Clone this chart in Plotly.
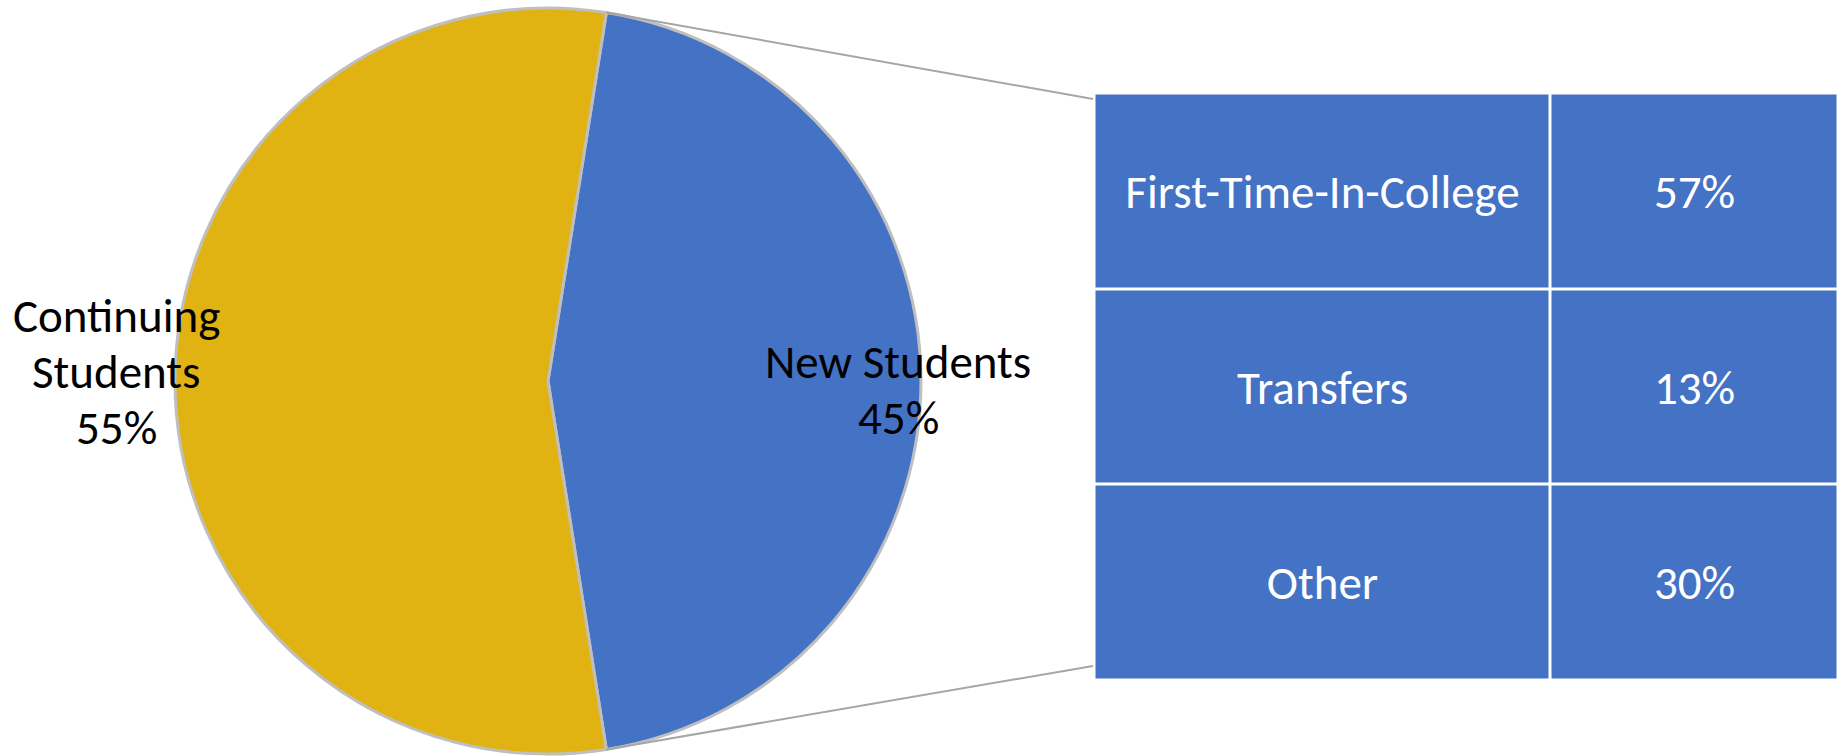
import math
import plotly.graph_objects as go

# ---- data ----
pie_labels = ["New Students", "Continuing Students"]
pie_values = [45, 55]
pie_text = ["New Students<br>45%", "Continuing<br>Students<br>55%"]

table_categories = ["First-Time-In-College", "Transfers", "Other"]
table_values = [57, 13, 30]
table_text_values = ["57%", "13%", "30%"]

# ---- layout constants ----
W, H = 1844, 756
BLUE = "#4472C4"
GOLD = "#E1B312"
FONT = "Carlito, Calibri, Lato, sans-serif"
FS = 47
LINE_H = 56

cx, cy, r = 548, 381, 373          # pie centre / radius in px
rot = 90 - 360 * pie_values[0] / sum(pie_values) / 2  # centre the blue slice at 3 o'clock

tbl_left, tbl_right, tbl_top, tbl_bottom = 1096, 1837, 95, 679
col_w = [454, 287]
gap = 3

# label anchor (centre x, first-line centre y) for each slice label
label_pos = [(898, 362), (116, 316)]


def px(x):
    return x / W


def py(y):
    return (H - y) / H


fig = go.Figure()

fig.add_trace(go.Pie(
    labels=pie_labels,
    values=pie_values,
    sort=False,
    direction="clockwise",
    rotation=rot,
    textinfo="none",
    hoverinfo="label+percent",
    marker=dict(colors=[BLUE, GOLD], line=dict(color="#BFBFBF", width=3)),
    domain=dict(x=[px(cx - r), px(cx + r)], y=[py(cy + r), py(cy - r)]),
    showlegend=False,
))

# table as a heatmap (2 columns x 3 rows)
z = [[v, v] for v in table_values]
text = [[c, t] for c, t in zip(table_categories, table_text_values)]
fig.add_trace(go.Heatmap(
    z=z,
    x=[0, col_w[0], col_w[0] + col_w[1]],
    y=list(range(len(table_categories))),
    text=text,
    texttemplate="%{text}",
    textfont=dict(family=FONT, size=FS, color="white"),
    colorscale=[[0, BLUE], [1, BLUE]],
    showscale=False,
    xgap=gap, ygap=gap,
    hoverinfo="text",
    xaxis="x2", yaxis="y2",
))

# pie slice labels, one annotation per line for Calibri-like line spacing
for txt, (lx, ly) in zip(pie_text, label_pos):
    for i, line in enumerate(txt.split("<br>")):
        fig.add_annotation(x=px(lx), y=py(ly + i * LINE_H), xref="paper", yref="paper",
                           text=line, showarrow=False,
                           font=dict(family=FONT, size=FS, color="black"),
                           xanchor="center", yanchor="middle")

# connector lines from blue slice edges to the table
a1 = math.radians(rot)
a2 = math.radians(rot + 360 * pie_values[0] / sum(pie_values))
p1 = (cx + r * math.sin(a1), cy - r * math.cos(a1))
p2 = (cx + r * math.sin(a2), cy - r * math.cos(a2))
for (sx, sy), (ex, ey) in [(p1, (tbl_left - 3, tbl_top + 4)), (p2, (tbl_left - 3, tbl_bottom - 13))]:
    fig.add_shape(type="line", xref="paper", yref="paper",
                  x0=px(sx), y0=py(sy), x1=px(ex), y1=py(ey),
                  line=dict(color="#A6A6A6", width=2))

fig.update_layout(
    width=W, height=H,
    margin=dict(l=0, r=0, t=0, b=0),
    paper_bgcolor="white", plot_bgcolor="white",
    showlegend=False,
    xaxis=dict(visible=False),
    yaxis=dict(visible=False),
    xaxis2=dict(domain=[px(tbl_left - gap / 2), px(tbl_right + gap / 2)],
                range=[0, col_w[0] + col_w[1]], visible=False, fixedrange=True,
                anchor="y2"),
    yaxis2=dict(domain=[py(tbl_bottom + gap / 2), py(tbl_top - gap / 2)],
                range=[len(table_categories) - 0.5, -0.5], visible=False,
                fixedrange=True, anchor="x2"),
)

fig.write_html("out.html",
               config={"displayModeBar": False},
               post_script="document.body.style.margin='0';document.body.style.overflow='hidden';")
